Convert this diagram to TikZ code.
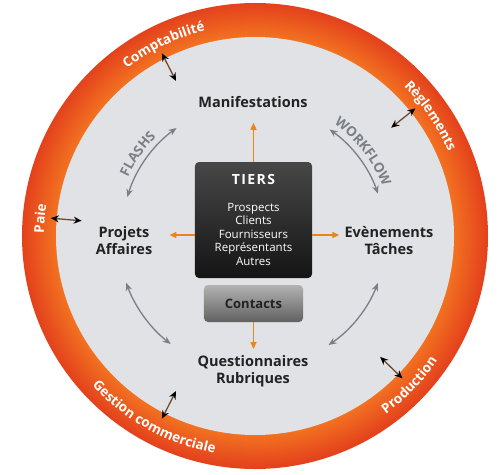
\documentclass[tikz,border=0pt]{standalone}
\usepackage{fontspec}
\setmainfont{Open Sans}
\usetikzlibrary{arrows.meta,decorations.text,positioning}

\definecolor{ringout}{HTML}{E4421C}
\definecolor{ringin}{HTML}{F37321}
\definecolor{disk}{HTML}{E1E2E6}
\definecolor{feedorange}{HTML}{E9851F}
\definecolor{flowgray}{HTML}{7A7E85}
\definecolor{topictext}{HTML}{222222}
\definecolor{linkbrown}{HTML}{6B4B2B}

\newcommand{\ringfont}{\fontsize{13.5}{15}\selectfont\bfseries\color{white}}
\newcommand{\flowfont}{\fontsize{13.5}{15}\selectfont\bfseries\color{flowgray}}

\tikzset{
  topic/.style={font=\fontsize{14.5}{17}\selectfont\bfseries, text=topictext, align=center, inner sep=0pt},
  tiersbox/.style={rounded corners=4pt, top color=black!72, bottom color=black!92, minimum width=117pt, minimum height=116pt, text=white, align=center, font=\fontsize{11.5}{13.6}\selectfont},
  contactbox/.style={rounded corners=4pt, top color=black!30, bottom color=black!62, minimum width=99pt, minimum height=37pt, font=\fontsize{13}{15}\selectfont\bfseries},
  feed/.style={draw=feedorange, line width=1.5pt, -{Triangle[length=7pt,width=6pt]}},
  flow/.style={draw=flowgray, line width=1.3pt, {Stealth[length=8pt,width=6.5pt]}-{Stealth[length=8pt,width=6.5pt]}},
  link/.style={draw=linkbrown, line width=1.3pt, {Stealth[black,length=8pt,width=7pt]}-{Stealth[black,length=8pt,width=7pt]}},
  ringtext/.style={decorate, decoration={text along path, text align=center, text={|\ringfont|#1}}},
  flowtext/.style={decorate, decoration={text along path, text align=center, text={|\flowfont|#1}}}
}

\begin{document}
\begin{tikzpicture}[x=1pt, y=1pt]
    \pgfmathsetmacro{\ringouter}{233}
    \pgfmathsetmacro{\ringinner}{199}
    \pgfmathsetmacro{\textin}{211}
    \pgfmathsetmacro{\textout}{221}
    \pgfmathsetmacro{\linkin}{174}
    \pgfmathsetmacro{\linkout}{205}

    \useasboundingbox (-255,-238) rectangle (245,236);
    \fill[white] (-255,-238) rectangle (245,236);

    % orange ring, darker on the outside
    \foreach \i in {0,...,17}{
        \pgfmathsetmacro{\mix}{100*\i/17}
        \fill[ringin!\mix!ringout] (0,0) circle[radius=\ringouter-2*\i];
    }
    \fill[disk] (0,0) circle[radius=\ringinner];

    \path[ringtext=Comptabilité] (165.5:\textin) arc[start angle=165.5, end angle=65.5, radius=\textin];
    \path[ringtext=Règlements] (84.4:\textin) arc[start angle=84.4, end angle=-15.6, radius=\textin];
    \path[ringtext=Paie] (225.3:\textin) arc[start angle=225.3, end angle=125.3, radius=\textin];
    \path[ringtext=Gestion commerciale] (191:\textout) arc[start angle=191, end angle=291, radius=\textout];
    \path[ringtext=Production] (-94:\textout) arc[start angle=-94, end angle=6, radius=\textout];

    \foreach \a/\n in {117/compta, 38.5/regl, 175/paie, 243/gestion, -44/prod}{
        \coordinate (\n-in) at (\a:\linkin);
        \coordinate (\n-out) at (\a:\linkout);
        \draw[link] (\n-in) -- (\n-out);
    }

    % topics
    \node[topic] (manif) at (-2,134) {Manifestations};
    \node[topic] (projets) at (-131,-4.5) {Projets\\Affaires};
    \node[topic] (evenements) at (134,-4.5) {Evènements\\Tâches};
    \node[topic] (questions) at (-2,-135) {Questionnaires\\Rubriques};

    \node[tiersbox] (tiers) at (-1.5,16) {{\fontsize{14}{16}\selectfont\bfseries\addfontfeatures{LetterSpace=10}TIERS}\\[13pt]Prospects\\Clients\\Fournisseurs\\Représentants\\Autres};
    \node[contactbox] (contacts) at (-1.5,-67.5) {\color{topictext}Contacts};

    \coordinate (feedleft) at ([yshift=-15pt]tiers.west);
    \coordinate (feedright) at ([yshift=-15pt]tiers.east);
    \draw[feed, shorten >=15pt] (tiers.north) -- (tiers.north |- manif.south);
    \draw[feed, shorten >=17pt] (feedleft) -- (feedleft -| projets.east);
    \draw[feed, shorten >=5pt] (feedright) -- (feedright -| evenements.west);
    \draw[feed, shorten >=6pt] (contacts.south) -- (contacts.south |- questions.north);

    % flows between topics
    \coordinate (flash-a) at (163:133.5);
    \coordinate (work-a) at (55:130);
    \coordinate (low-left-a) at (200:137);
    \coordinate (low-right-a) at (-21:131.5);
    \draw[flow] (flash-a) arc[start angle=163, end angle=126, radius=133.5];
    \draw[flow] (work-a) arc[start angle=55, end angle=19, radius=130];
    \draw[flow] (low-left-a) arc[start angle=200, end angle=232, radius=137];
    \draw[flow] (low-right-a) arc[start angle=-21, end angle=-56, radius=131.5];

    \path[flowtext=FLASHS] (180:140) arc[start angle=180, end angle=110, radius=140];
    \path[flowtext=WORKFLOW] (73:137) arc[start angle=73, end angle=3, radius=137];
\end{tikzpicture}
\end{document}
